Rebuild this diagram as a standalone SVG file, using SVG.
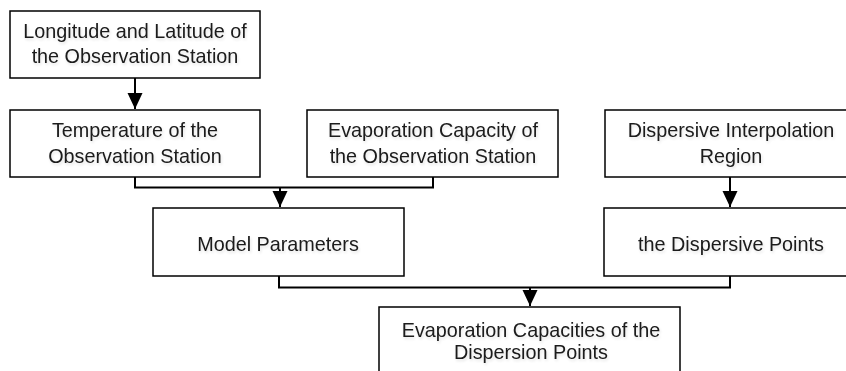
<svg xmlns="http://www.w3.org/2000/svg" width="846" height="371" viewBox="0 0 846 371">
<defs>
<marker id="arr" markerUnits="userSpaceOnUse" markerWidth="16" markerHeight="16" viewBox="0 0 16 16" refX="16" refY="8" orient="auto">
<path d="M0,0.5 L16,8 L0,15.5 Z" fill="#000"/>
</marker>
<filter id="sh" x="-5%" y="-10%" width="110%" height="130%">
<feGaussianBlur in="SourceAlpha" stdDeviation="1.5"/>
<feOffset dx="1" dy="2" result="b"/>
<feComponentTransfer><feFuncA type="linear" slope="0.12"/></feComponentTransfer>
<feMerge><feMergeNode/><feMergeNode in="SourceGraphic"/></feMerge>
</filter>
</defs>
<style>
.box{fill:#fff;stroke:#000;stroke-width:1.5}
.t{font-family:"Liberation Sans",Arial,sans-serif;font-size:19.8px;fill:#1a1a1a;text-anchor:middle}
.c{fill:none;stroke:#000;stroke-width:2}
</style>
<rect width="846" height="371" fill="#fff"/>
<g id="connectors">
<path class="c" d="M135,78 V109" marker-end="url(#arr)"/>
<path class="c" d="M135,177 V187.5 H433 V177"/>
<path class="c" d="M280,187.5 V207" marker-end="url(#arr)"/>
<path class="c" d="M730,177 V207" marker-end="url(#arr)"/>
<path class="c" d="M279,276 V287.5 H730 V276"/>
<path class="c" d="M530,287.5 V306" marker-end="url(#arr)"/>
</g>
<g id="n1">
<rect class="box" x="10" y="11" width="250" height="67"/>
<text class="t" filter="url(#sh)" x="135" y="37.5">Longitude and Latitude of</text>
<text class="t" filter="url(#sh)" x="135" y="63">the Observation Station</text>
</g>
<g id="n2">
<rect class="box" x="10" y="110" width="250" height="67"/>
<text class="t" filter="url(#sh)" x="135" y="137">Temperature of the</text>
<text class="t" filter="url(#sh)" x="135" y="163">Observation Station</text>
</g>
<g id="n3">
<rect class="box" x="307" y="110" width="251" height="67"/>
<text class="t" filter="url(#sh)" x="433" y="137">Evaporation Capacity of</text>
<text class="t" filter="url(#sh)" x="433" y="163">the Observation Station</text>
</g>
<g id="n4">
<rect class="box" x="605" y="110" width="251" height="67"/>
<text class="t" filter="url(#sh)" x="731" y="137">Dispersive Interpolation</text>
<text class="t" filter="url(#sh)" x="731" y="163">Region</text>
</g>
<g id="n5">
<rect class="box" x="153" y="208" width="251" height="68"/>
<text class="t" filter="url(#sh)" x="278" y="251">Model Parameters</text>
</g>
<g id="n6">
<rect class="box" x="604" y="208" width="252" height="68"/>
<text class="t" filter="url(#sh)" x="731" y="251">the Dispersive Points</text>
</g>
<g id="n7">
<rect class="box" x="379" y="307" width="301" height="80"/>
<text class="t" filter="url(#sh)" x="531" y="337">Evaporation Capacities of the</text>
<text class="t" filter="url(#sh)" x="531" y="359">Dispersion Points</text>
</g>
</svg>
